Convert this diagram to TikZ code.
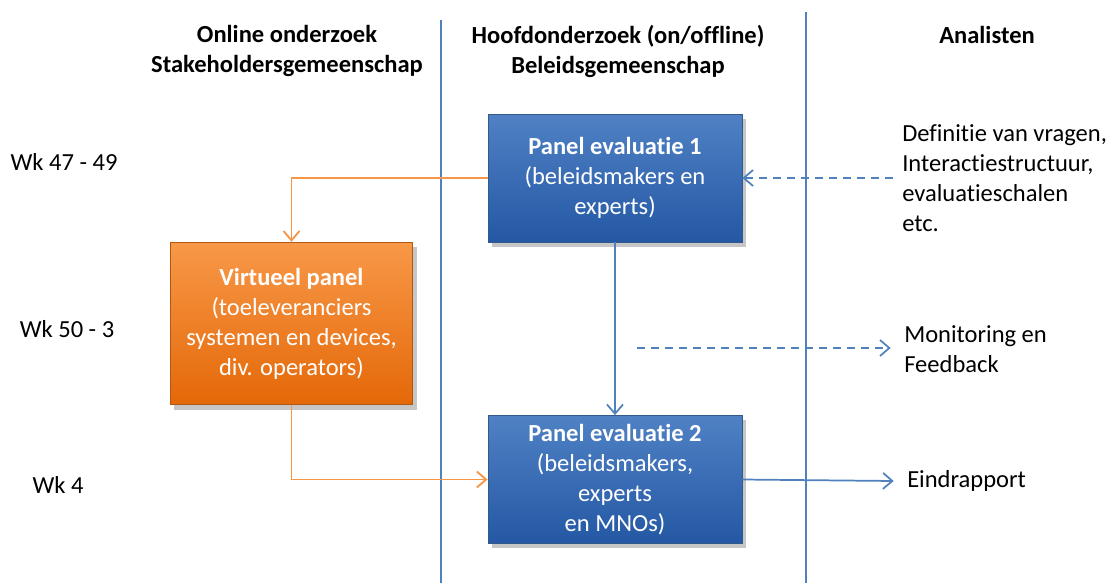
\documentclass[tikz,border=0pt]{standalone}
\usepackage{fontspec}
\setmainfont{Carlito}[Ligatures=NoCommon]
\usetikzlibrary{arrows.meta,shadows}
\definecolor{LineClr}{RGB}{79,129,189}
\definecolor{FlowClr}{RGB}{247,150,70}
\definecolor{BlueTop}{RGB}{79,129,196}
\definecolor{BlueBot}{RGB}{36,88,164}
\definecolor{BlueRim}{RGB}{52,90,140}
\definecolor{OrangeTop}{RGB}{248,152,72}
\definecolor{OrangeBot}{RGB}{228,104,8}
\definecolor{OrangeRim}{RGB}{176,88,20}
\newcommand{\dgfont}{\fontsize{18.4pt}{22.5pt}\selectfont}

\begin{document}
\begin{tikzpicture}[x=0.75pt,y=-0.75pt,
  every node/.style={font=\dgfont,inner sep=0pt},
  panel/.style={draw=BlueRim,line width=0.6pt,top color=BlueTop,bottom color=BlueBot,
    text=white,align=center,minimum width=190.5pt,minimum height=96pt,
    drop shadow={shadow xshift=3pt,shadow yshift=-3.5pt,opacity=0.45}},
  vpanel/.style={panel,draw=OrangeRim,top color=OrangeTop,bottom color=OrangeBot,
    minimum width=182pt,minimum height=122pt},
  kop/.style={font=\dgfont\bfseries,align=center},
  note/.style={align=left,anchor=west},
  tip/.style={-{Straight Barb[length=7pt,width=12pt]}},
  flow/.style={tip,draw=FlowClr,line width=1.4pt},
  feed/.style={tip,draw=LineClr,line width=1.3pt},
  hint/.style={feed,dash pattern=on 6pt off 4.5pt},
  grid/.style={draw=LineClr,line width=1.4pt}]
\useasboundingbox (0,0) rectangle (1111,583);

% Scheidingslijnen tussen de kolommen.
\draw[grid] (441,20) -- (441,583);
\draw[grid] (806,12) -- (806,583);

% Kolomkoppen.
\node[kop] (kop1) at (287,51) {Online onderzoek\\Stakeholdersgemeenschap};
\node[kop] (kop2) at (618,51) {Hoofdonderzoek (on/offline)\\Beleidsgemeenschap};
\node[kop] (kop3) at (987,35) {Analisten};

% Weken.
\node (wk1) at (64,162) {Wk 47 - 49};
\node (wk2) at (67,329) {Wk 50 - 3};
\node (wk3) at (58,485) {Wk 4};

% Panels.
\node[panel] (p1) at (615,178) {\textbf{Panel evaluatie 1}\\(beleidsmakers en\\experts)};
\node[vpanel] (vp) at (291.5,323.5) {\textbf{Virtueel panel}\\(toeleveranciers\\systemen en devices,\\div. operators)};
\node[panel] (p2) at (615,479.5) {\textbf{Panel evaluatie 2}\\(beleidsmakers,\\experts\\en MNOs)};

% Teksten van de analisten.
\node[note] (def) at (902,178) {Definitie van vragen,\\Interactiestructuur,\\evaluatieschalen\\etc.};
\node[note] (mon) at (904,349) {Monitoring en\\Feedback};
\node[note] (eind) at (907,481) {Eindrapport};
\coordinate (monstart) at (637,348);

% Verbindingen.
\draw[flow] (p1.west) -| (vp.north);
\draw[flow] (vp.south) |- (p2.west);
\draw[feed] (p1.south) -- (p2.north);
\draw[hint] (def.west) ++(-9,0) -- (p1.east);
\draw[hint] (monstart) -- ([xshift=-10pt]mon.west |- monstart);
\draw[feed] (p2.east) -- ([xshift=-10pt]eind.west);

\end{tikzpicture}
\end{document}
